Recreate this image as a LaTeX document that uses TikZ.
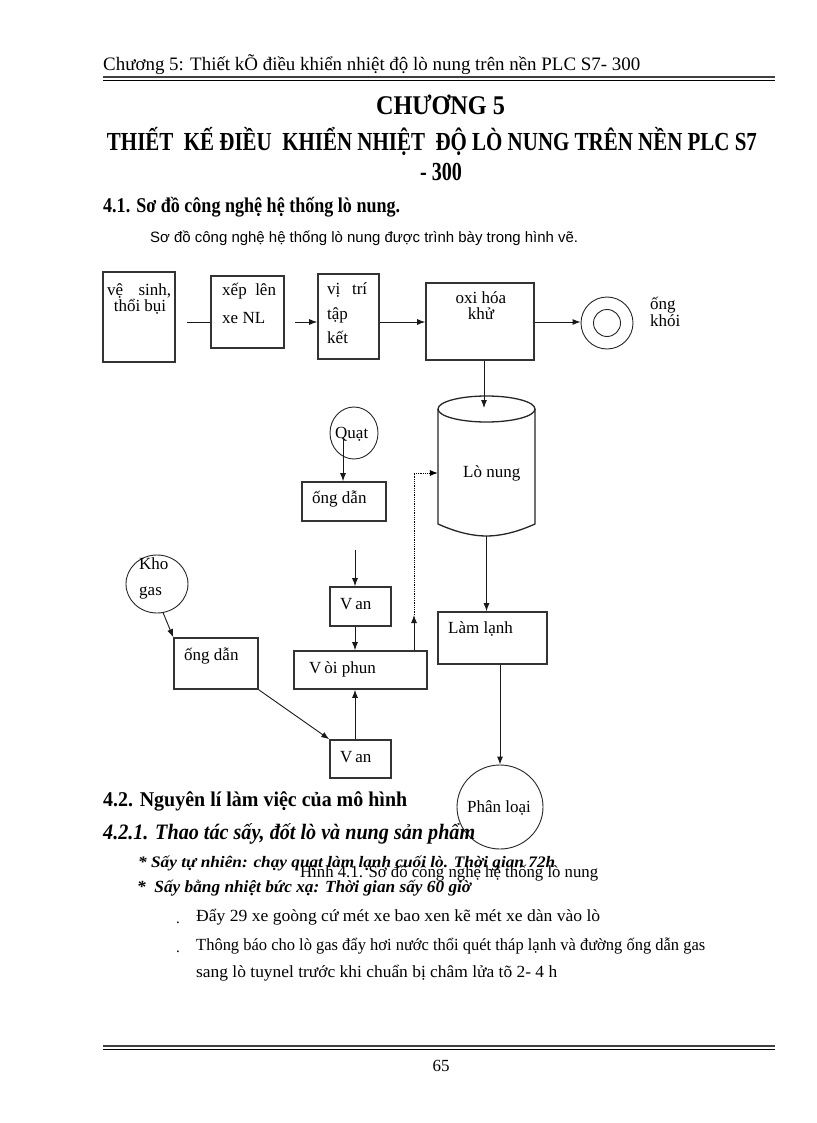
\documentclass[tikz,border=0pt]{standalone}
\usepackage{fontspec}
\usepackage{graphicx}
\setmainfont{Liberation Serif}
\setsansfont{Liberation Sans}
\usetikzlibrary{arrows.meta,shapes.geometric}
\newcommand\fw[2]{\resizebox{#1pt}{\height}{#2}}
\newcommand\fsz[1]{\fontsize{#1}{#1}\selectfont}
\begin{document}
\begin{tikzpicture}[x=1pt,y=-1pt,
  box/.style={draw=black!80, line width=1.6pt, inner sep=0pt, rectangle},
  ell/.style={draw=black!85, line width=0.9pt, inner sep=0pt, ellipse},
  txt/.style={inner sep=0pt, anchor=base west},
  lbl/.style={inner sep=0pt, anchor=base west, font=\fsz{17}},
  arr/.style={-{Latex[length=8pt,width=6pt]}, line width=0.9pt, draw=black!90},
  ln/.style={line width=0.9pt, draw=black!90},
  rulethick/.style={line width=2.6pt, draw=black!75},
  rulethin/.style={line width=0.9pt, draw=black}]
\useasboundingbox (0,0) rectangle (816,1123);
\fill[white] (0,0) rectangle (816,1123);

% header
\node[txt] (hdr) at (103,71) {\fw{537}{\fsz{19}Chương 5: Thiết kÕ điều khiển nhiệt độ lò nung trên nền PLC S7- 300}};
\draw[rulethick] (103,77) -- (775,77);
\draw[rulethin] (103,80.8) -- (775,80.8);

% titles
\node[inner sep=0pt, anchor=base] (ch) at (440.5,115) {\fw{129}{\bfseries\fsz{27}CHƯƠNG 5}};
\node[inner sep=0pt, anchor=base] (tt1) at (432,151) {\fw{650}{\bfseries\fsz{26}THIẾT\ \ KẾ ĐIỀU\ \ KHIỂN NHIỆT\ \ ĐỘ LÒ NUNG TRÊN NỀN PLC S7}};
\node[inner sep=0pt, anchor=base] (tt2) at (441,181) {\fw{42}{\bfseries\fsz{26}- 300}};
\node[txt] (s41) at (103,213) {\fw{297}{\bfseries\fsz{21}4.1. Sơ đồ công nghệ hệ thống lò nung.}};
\node[txt] (intro) at (150,242) {\fw{428}{\sffamily\fsz{15}Sơ đồ công nghệ hệ thống lò nung được trình bày trong hình vẽ.}};

% ---------------- diagram ----------------
\coordinate (yl) at (0,322);
\node[box, minimum width=72pt, minimum height=90pt] (b1) at (139,317) {};
\node[box, minimum width=73pt, minimum height=72pt] (b2) at (247.5,312) {};
\node[box, minimum width=61pt, minimum height=85pt] (b3) at (348.5,316.5) {};
\node[box, minimum width=108pt, minimum height=77pt] (b4) at (480,321.5) {};
\node[ell, circle, minimum size=52pt] (chim) at (607,323) {};
\node[ell, circle, minimum size=27pt] (chimin) at (607,323) {};

\node[lbl] (t1a) at (107,295) {\makebox[64pt][s]{vệ sinh,}};
\node[lbl, anchor=base] (t1b) at (140,311) {thổi bụi};
\node[lbl] (t2a) at (222,295) {xếp\ \ lên};
\node[lbl] (t2b) at (222,323) {xe NL};
\node[lbl] (t3a) at (327,294) {\makebox[40pt][s]{vị trí}};
\node[lbl] (t3b) at (327,319) {tập};
\node[lbl] (t3c) at (327,343) {kết};
\node[lbl, anchor=base] (t4a) at (481,303) {oxi hóa};
\node[lbl, anchor=base] (t4b) at (481,319) {khử};
\node[lbl] (t5a) at (650,309) {ống};
\node[lbl] (t5b) at (650,326) {khói};

\coordinate (c1) at (187,322);
\coordinate (c2) at (295,322);
\draw[ln] (c1) -- (c1 -| b2.west);
\draw[arr] (c2) -- (c2 -| b3.west);
\draw[arr] (b3.east |- yl) -- (b4.west |- yl);
\draw[arr] (b4.east |- yl) -- (chim.west |- yl);

% furnace (cylinder)
\node[inner sep=0pt, minimum width=97pt, minimum height=140pt] (lo) at (486.5,466) {};
\draw[line width=1.3pt, draw=black!85] (438,409) -- (438,524) .. controls (458,533) and (474,536) .. (486.5,536) .. controls (499,536) and (515,533) .. (535,524) -- (535,409);
\draw[line width=1.3pt, draw=black!85] (486.5,409) ellipse [x radius=48.5pt, y radius=13pt];
\node[lbl] (lot) at (463,477) {Lò nung};
\coordinate (lotop) at (484,408);
\draw[arr] (b4.south -| lotop) -- (lotop);

% fan branch
\node[ell, minimum width=48pt, minimum height=52pt] (quat) at (354,433) {};
\node[lbl] (quatt) at (335,438) {Quạt};
\node[box, minimum width=84pt, minimum height=39pt] (od1) at (344,501.5) {};
\node[lbl] (od1t) at (312,503) {ống dẫn};
\coordinate (q0) at (343,438);
\draw[arr] (q0) -- (q0 |- od1.north);

% valves and burner
\node[box, minimum width=61pt, minimum height=39pt] (van1) at (360.5,606.5) {};
\node[lbl] (van1t) at (340,609) {V\,an};
\node[box, minimum width=133pt, minimum height=38pt] (voi) at (360.5,670) {};
\node[lbl] (voit) at (309,673) {V\,òi phun};
\node[box, minimum width=61pt, minimum height=38pt] (van2) at (360.5,759) {};
\node[lbl] (van2t) at (340,762) {V\,an};
\coordinate (v0) at (355,550);
\draw[arr] (v0) -- (v0 |- van1.north);
\draw[arr] (van1.south -| v0) -- (voi.north -| v0);
\draw[arr] (van2.north -| v0) -- (voi.south -| v0);

% gas storage
\node[ell, minimum width=62pt, minimum height=58pt] (kho) at (157,584) {};
\node[lbl] (khot) at (139,569) {Kho};
\node[lbl] (gast) at (139,595) {gas};
\node[box, minimum width=84pt, minimum height=51pt] (od2) at (216,663.5) {};
\node[lbl] (od2t) at (184,660) {ống dẫn};
\draw[arr] (kho.-78) -- (od2.north west);
\draw[arr] (od2.south east) -- (van2.north west);

% dotted feedback
\coordinate (d0) at (414,615);
\coordinate (dl) at (0,473);
\draw[arr] (voi.north -| d0) -- (d0);
\draw[line width=0.8pt, densely dotted, -{Latex[length=8pt,width=6pt]}] (d0) -- (d0 |- dl) -- (lo.west |- dl);

% cooling and sorting
\node[box, minimum width=109pt, minimum height=52pt] (lam) at (492.5,638) {};
\node[lbl] (lamt) at (448,633) {Làm lạnh};
\draw[arr] (lo.south) -- (lo.south |- lam.north);
\node[ell, minimum width=86pt, minimum height=84pt] (phan) at (500,807) {};
\node[lbl] (phant) at (467,812) {Phân loại};
\draw[arr] (lam.south -| phan.north) -- (phan.north);

% ---------------- text below ----------------
\node[txt] (s42) at (103,806) {\fw{304}{\bfseries\fsz{21}4.2. Nguyên lí làm việc của mô hình}};
\node[txt] (s421) at (103,839) {\fw{372}{\bfseries\itshape\fsz{22}4.2.1. Thao tác sấy, đốt lò và nung sản phẩm}};
\node[txt] (say1) at (138,867) {\fw{417}{\bfseries\itshape\fsz{16}* Sấy tự nhiên: chạy quạt làm lạnh cuối lò. Thời gian 72h}};
\node[txt] (cap) at (300,877) {\fw{298}{\fsz{17}Hình 4.1. Sơ đồ công nghệ hệ thống lò nung}};
\node[txt] (say2) at (137,892) {\fw{334}{\bfseries\itshape\fsz{17}*\ \ Sấy bằng nhiệt bức xạ: Thời gian sấy 60 giờ}};
\node[txt] (bu1) at (176,923) {\fsz{15}.};
\node[txt] (l1) at (196,921) {\fw{404}{\fsz{17}Đẩy 29 xe goòng cứ mét xe bao xen kẽ mét xe dàn vào lò}};
\node[txt] (bu2) at (176,952) {\fsz{15}.};
\node[txt] (l2) at (196,950) {\fw{509}{\fsz{17}Thông báo cho lò gas đẩy hơi nước thổi quét tháp lạnh và đường ống dẫn gas}};
\node[txt] (l3) at (196,977) {\fw{361}{\fsz{17}sang lò tuynel trước khi chuẩn bị châm lửa tõ 2- 4 h}};

% footer
\draw[rulethick] (103,1046) -- (775,1046);
\draw[rulethin] (103,1049.8) -- (775,1049.8);
\node[inner sep=0pt, anchor=base] (pg) at (441,1071) {\fsz{17}65};
\end{tikzpicture}
\end{document}
